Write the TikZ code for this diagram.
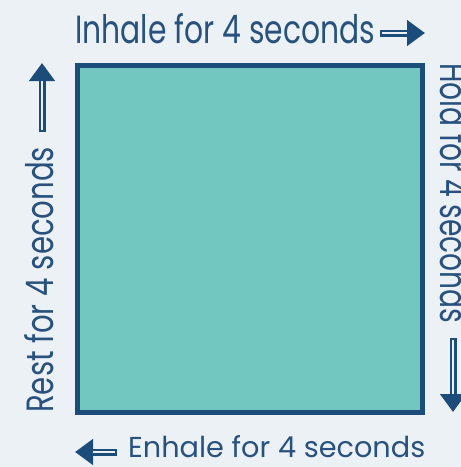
\documentclass[tikz,border=0pt]{standalone}
\usepackage{fontspec}
\setmainfont{Poppins}
\usepackage{graphicx}
\usetikzlibrary{arrows.meta}
\definecolor{bxnavy}{RGB}{27,76,122}
\definecolor{bxteal}{RGB}{114,200,192}
\definecolor{bxbg}{RGB}{236,241,245}
\definecolor{bxtext}{RGB}{40,82,125}
\tikzset{
  breath/.style={line width=7pt, draw=bxnavy,
    -{Triangle[length=18pt,width=25pt]},
    postaction={draw=bxbg, line width=2pt, -, shorten >=18pt, shorten <=2pt}},
  cue/.style={inner sep=0pt, text=bxtext, anchor=base west}
}

\begin{document}
\begin{tikzpicture}[x=1pt,y=-1pt]
% Background
\fill[bxbg] (0,0) rectangle (461,467);
\clip (0,0) rectangle (461,467);

% Square
\node[draw=bxnavy, fill=bxteal, line width=5pt, minimum width=345pt, minimum height=347pt, inner sep=0pt] (box) at (250,239) {};

% Steps
\node[cue] (inhale) at (75,43) {\resizebox{300pt}{30pt}{Inhale for 4 seconds}};
\node[cue, rotate=-90] (hold) at (440,63) {\resizebox{260pt}{29pt}{Hold for 4 seconds}};
\node[cue] (exhale) at (128,457) {\resizebox{297pt}{22pt}{Enhale for 4 seconds}};
\node[cue, rotate=90] (rest) at (53,413) {\resizebox{266pt}{29pt}{Rest for 4 seconds}};

% Arrows
\coordinate (intip) at (425,33);
\coordinate (holdtip) at (453,412);
\coordinate (extip) at (75,452);
\coordinate (resttip) at (42,63);
\draw[breath] ([xshift=5pt,yshift=10pt]inhale.base east) -- (intip);
\draw[breath] ([xshift=13pt,yshift=-15pt]hold.base east) -- (holdtip);
\draw[breath] ([xshift=-11pt,yshift=5pt]exhale.base west) -- (extip);
\draw[breath] ([xshift=-11pt,yshift=15pt]rest.base east) -- (resttip);
\end{tikzpicture}
\end{document}
